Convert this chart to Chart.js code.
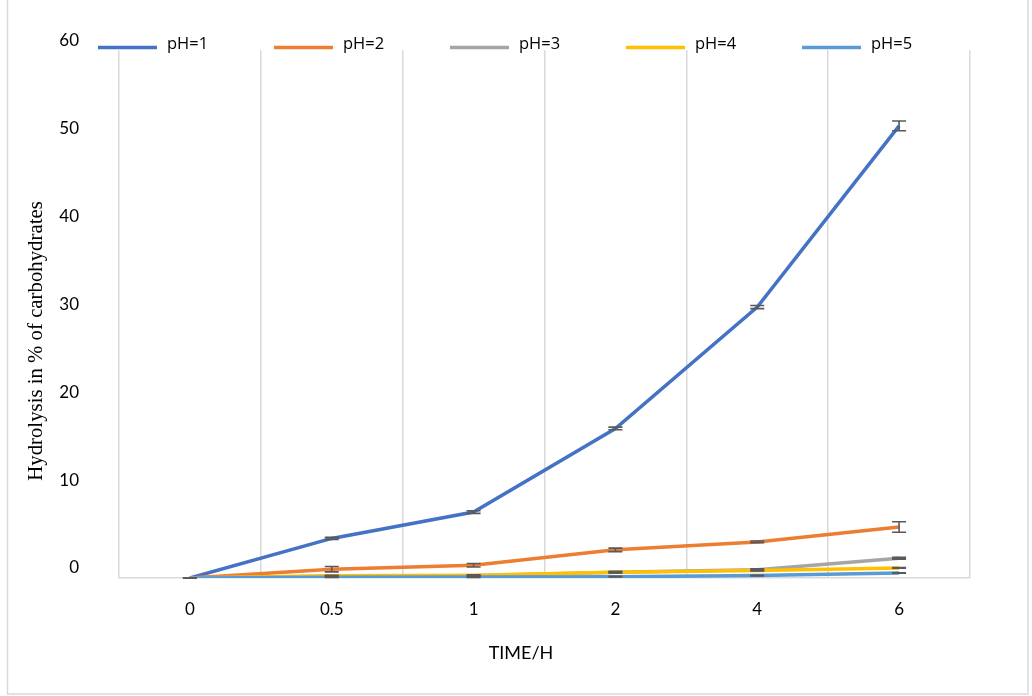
<!DOCTYPE html>
<html>
<head>
<meta charset="utf-8">
<script src="https://cdn.jsdelivr.net/npm/chart.js@4.4.1/dist/chart.umd.min.js"></script>
<style>
html,body{margin:0;padding:0;background:#fff;}
#wrap{position:relative;width:1032px;height:696px;}
</style>
</head>
<body>
<div id="wrap"><canvas id="c" width="1032" height="696"></canvas></div>
<script>
const categories = ['0', '0.5', '1', '2', '4', '6'];
const seriesNames = ['pH=1', 'pH=2', 'pH=3', 'pH=4', 'pH=5'];
const ph1 = [0, 4.5, 7.5, 17.0, 30.8, 51.4];
const ph2 = [0, 1.0, 1.45, 3.2, 4.1, 5.8];
const ph3 = [0, 0.2, 0.25, 0.65, 0.95, 2.25];
const ph4 = [0, 0.25, 0.3, 0.65, 0.85, 1.15];
const ph5 = [0, 0.08, 0.1, 0.15, 0.27, 0.57];
const err1 = [0, 0.12, 0.15, 0.15, 0.18, 0.55];
const err2 = [0, 0.3, 0.2, 0.2, 0.1, 0.6];
const err3 = [0, 0.05, 0.05, 0.08, 0.1, 0.1];
const err4 = [0, 0.05, 0.05, 0.08, 0.05, 0.05];
const err5 = [0, 0.03, 0.03, 0.03, 0.03, 0.03];
const yTicks = [0, 10, 20, 30, 40, 50, 60];
const xTitle = 'TIME/H';
const yTitle = 'Hydrolysis in % of carbohydrates';
const colors = ['#4472C4', '#ED7D31', '#A5A5A5', '#FFC000', '#5B9BD5'];

const values = [ph1, ph2, ph3, ph4, ph5];
const errors = [err1, err2, err3, err4, err5];

const datasets = values.map((v, i) => ({
  label: seriesNames[i],
  data: v,
  errors: errors[i],
  borderColor: colors[i],
  backgroundColor: colors[i],
  borderWidth: 3.5,
  pointRadius: 0,
  pointHoverRadius: 0,
  tension: 0,
  fill: false,
  order: 5 - i
}));

const framePlugin = {
  id: 'frame',
  beforeDraw(chart) {
    const ctx = chart.ctx;
    ctx.save();
    ctx.fillStyle = '#fff';
    ctx.fillRect(0, 0, chart.width, chart.height);
    ctx.strokeStyle = '#d9d9d9';
    ctx.lineWidth = 1.5;
    ctx.strokeRect(7.5, -2, 1020.5, 696);
    ctx.restore();
  }
};

const errorBarPlugin = {
  id: 'errorBars',
  afterDatasetsDraw(chart) {
    const ctx = chart.ctx;
    const ys = chart.scales.y;
    ctx.save();
    ctx.strokeStyle = '#595959';
    ctx.lineWidth = 1.6;
    chart.data.datasets.forEach((ds, di) => {
      const meta = chart.getDatasetMeta(di);
      meta.data.forEach((pt, j) => {
        const v = ds.data[j], e = ds.errors[j];
        const x = pt.x;
        const yTop = ys.getPixelForValue(v + e);
        const yBot = ys.getPixelForValue(v - e);
        ctx.beginPath();
        ctx.moveTo(x, yTop); ctx.lineTo(x, yBot);
        ctx.moveTo(x - 7, yTop); ctx.lineTo(x + 7, yTop);
        ctx.moveTo(x - 7, yBot); ctx.lineTo(x + 7, yBot);
        ctx.stroke();
      });
    });
    ctx.restore();
  }
};

const legendAndTitles = {
  id: 'legendTitles',
  afterDraw(chart) {
    const ctx = chart.ctx;
    ctx.save();
    chart.data.datasets.forEach((ds, i) => {
      const x0 = 98 + i * 176;
      ctx.strokeStyle = ds.borderColor;
      ctx.lineWidth = 3.5;
      ctx.beginPath();
      ctx.moveTo(x0, 47.5);
      ctx.lineTo(x0 + 59, 47.5);
      ctx.stroke();
      ctx.fillStyle = '#000';
      ctx.font = "16.5px 'Open Sans'";
      ctx.textAlign = 'left';
      ctx.textBaseline = 'middle';
      ctx.fillText(ds.label, x0 + 69, 44);
    });
    ctx.fillStyle = '#000';
    ctx.font = "18px Lato";
    ctx.textAlign = 'center';
    ctx.textBaseline = 'middle';
    ctx.fillText(xTitle, 521, 653);
    ctx.translate(37, 341);
    ctx.rotate(-Math.PI / 2);
    ctx.font = "20.8px 'Liberation Serif'";
    ctx.fillText(yTitle, 0, 0);
    ctx.restore();
  }
};

new Chart(document.getElementById('c'), {
  type: 'line',
  data: { labels: categories, datasets: datasets },
  options: {
    responsive: false,
    animation: false,
    devicePixelRatio: 1,
    layout: { padding: { left: 0, right: 62, top: 48, bottom: 0 } },
    plugins: {
      legend: { display: false },
      tooltip: { enabled: false },
      title: { display: false }
    },
    scales: {
      x: {
        type: 'category',
        offset: true,
        grid: { display: true, offset: true, color: '#d9d9d9', lineWidth: 1.5, drawTicks: false },
        border: { display: true, color: '#d9d9d9', width: 1.5 },
        ticks: { color: '#000', font: { family: 'Lato', size: 17 }, padding: 21, maxRotation: 0 },
        afterFit(scale) { scale.height = 118; }
      },
      y: {
        min: 0,
        max: 60,
        afterBuildTicks(scale) { scale.ticks = yTicks.map(v => ({ value: v })); },
        grid: { display: false, drawTicks: false },
        border: { display: false },
        ticks: { color: '#000', font: { family: 'Lato', size: 17 }, padding: 40, labelOffset: -10 },
        afterFit(scale) { scale.width = 119; }
      }
    }
  },
  plugins: [framePlugin, errorBarPlugin, legendAndTitles]
});
</script>
</body>
</html>
